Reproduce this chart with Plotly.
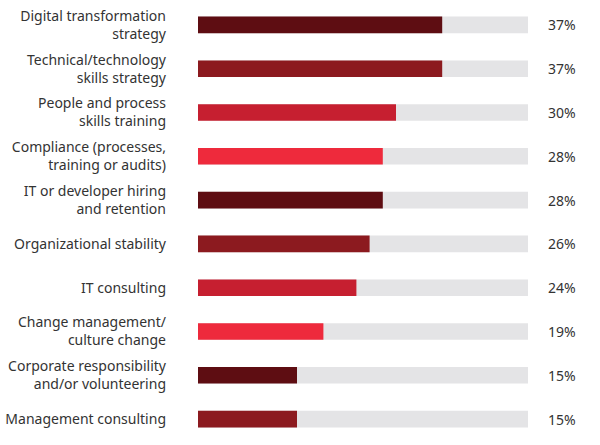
import plotly.graph_objects as go

categories = [
    "Digital transformation<br>strategy",
    "Technical/technology<br>skills strategy",
    "People and process<br>skills training",
    "Compliance (processes,<br>training or audits)",
    "IT or developer hiring<br>and retention",
    "Organizational stability",
    "IT consulting",
    "Change management/<br>culture change",
    "Corporate responsibility<br>and/or volunteering",
    "Management consulting",
]
values = [37, 37, 30, 28, 28, 26, 24, 19, 15, 15]
track_max = 50
palette = ["#5e0d12", "#8c1a1f", "#c61f30", "#ee2a3c"]
colors = [palette[i % 4] for i in range(len(values))]
labels = [f"{v}%" for v in values]

fig = go.Figure()
fig.add_trace(go.Bar(
    y=categories, x=[track_max] * len(values), orientation="h",
    marker=dict(color="#e4e4e6", line_width=0), width=0.38,
    hoverinfo="skip", showlegend=False,
))
fig.add_trace(go.Bar(
    y=categories, x=values, orientation="h",
    marker=dict(color=colors, line_width=0, cornerradius=6), width=0.38,
    showlegend=False,
))
for c, lab in zip(categories, labels):
    fig.add_annotation(x=1, xref="paper", y=c, yref="y", text=lab,
                       showarrow=False, xanchor="right", xshift=50,
                       font=dict(size=14, color="#333333"))

fig.update_layout(
    width=600, height=445,
    margin=dict(l=198, r=72, t=3, b=4),
    barmode="overlay",
    plot_bgcolor="white", paper_bgcolor="white",
    font=dict(family="Noto Sans", size=14, color="#333333"),
    xaxis=dict(range=[0, track_max], visible=False, fixedrange=True),
    yaxis=dict(autorange="reversed", showgrid=False, zeroline=False,
               showline=False, ticks="", ticklabelstandoff=31,
               tickfont=dict(size=14, color="#333333"), fixedrange=True),
)
fig.write_html("out.html",
               config={"displayModeBar": False},
               post_script="document.body.style.margin='0';document.body.style.padding='0';")
